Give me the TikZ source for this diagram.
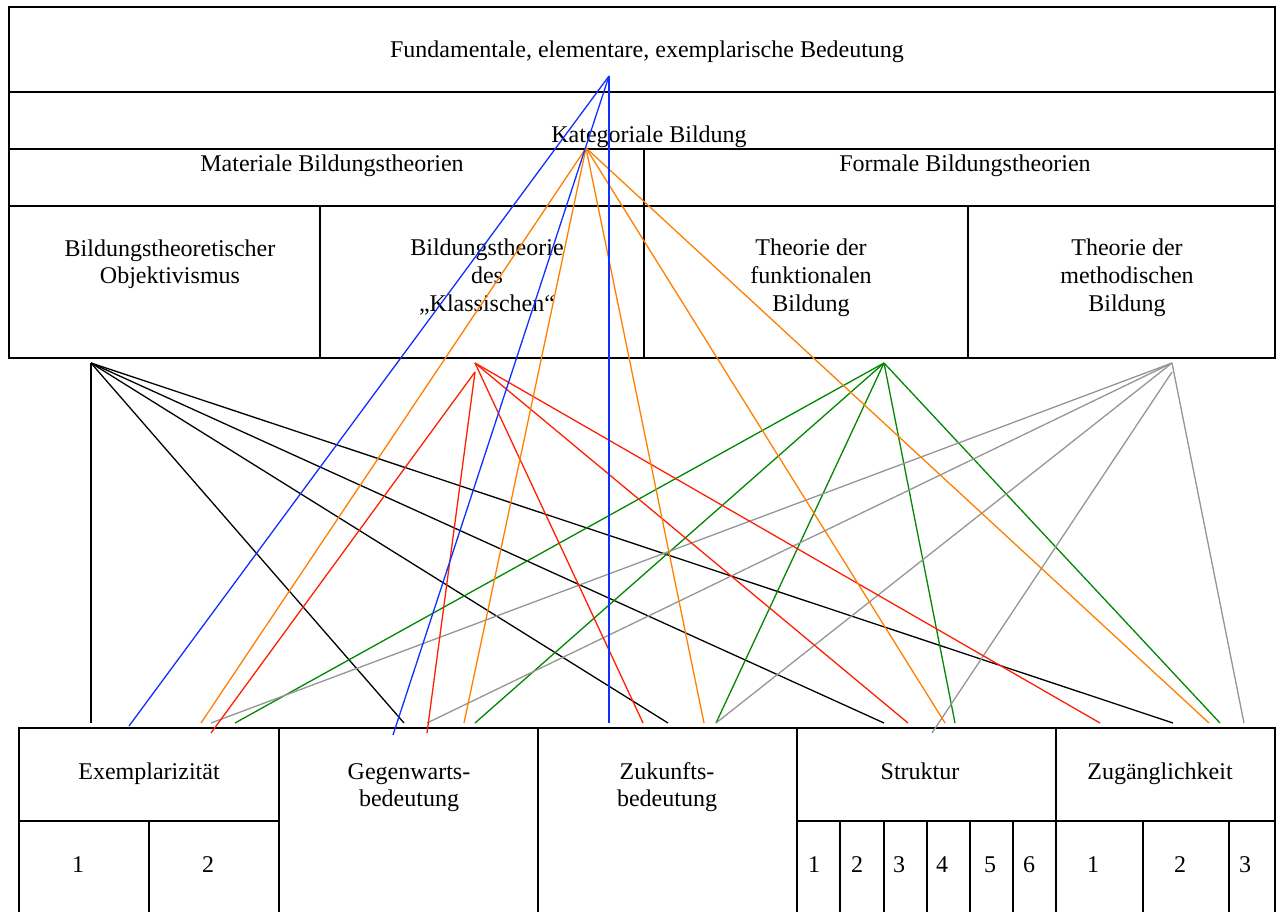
\documentclass[tikz,border=0pt]{standalone}
\usepackage{fontspec}
\setmainfont{Liberation Serif}
\begin{document}
\begin{tikzpicture}[x=0.5pt,y=-0.5pt,
  grid/.style={line width=0.9pt,black},
  lbl/.style={font=\fontsize{12}{13.8}\selectfont,align=center,anchor=base,inner sep=0pt},
  conn/.style={line width=0.65pt},
  cblue/.style={conn,draw={rgb,255:red,16;green,48;blue,255}},
  corange/.style={conn,draw={rgb,255:red,255;green,128;blue,0}},
  cred/.style={conn,draw={rgb,255:red,255;green,32;blue,0}},
  cgreen/.style={conn,draw={rgb,255:red,0;green,136;blue,0}},
  cgray/.style={conn,draw={rgb,255:red,150;green,150;blue,150}},
  cblack/.style={conn,draw=black}]
\useasboundingbox (0,0) rectangle (1280,911);
\fill[white] (0,0) rectangle (1280,911);

% ---- top table ----
\draw[grid] (9,7) rectangle (1275,358);
\draw[grid] (9,92) -- (1275,92);
\draw[grid] (9,149) -- (1275,149);
\draw[grid] (9,206) -- (1275,206);
\draw[grid] (644,149) -- (644,358);
\draw[grid] (320,206) -- (320,358);
\draw[grid] (968,206) -- (968,358);

% ---- bottom table ----
\draw[grid] (19,940) -- (19,728) -- (1275,728) -- (1275,940);
\foreach \x in {279,538,797,1056} \draw[grid] (\x,728) -- (\x,940);
\draw[grid] (19,821) -- (279,821);
\draw[grid] (797,821) -- (1275,821);
\foreach \x in {149,840,884,927,970,1013,1143,1229} \draw[grid] (\x,821) -- (\x,940);

% ---- texts (base = baseline of last line) ----
\node[lbl] (fund) at (647,57) {Fundamentale, elementare, exemplarische Bedeutung};
\node[lbl] (kat) at (649,142) {Kategoriale Bildung};
\node[lbl] (mat) at (332,171) {Materiale Bildungstheorien};
\node[lbl] (form) at (965,171) {Formale Bildungstheorien};
\node[lbl] (obj) at (170,283.6) {Bildungstheoretischer\\Objektivismus};
\node[lbl] (klass) at (487,311) {Bildungstheorie\\des\\„Klassischen“};
\node[lbl] (funk) at (811,311) {Theorie der\\funktionalen\\Bildung};
\node[lbl] (meth) at (1127,311) {Theorie der\\methodischen\\Bildung};

\node[lbl] (exe) at (149,779) {Exemplarizität};
\node[lbl] (geg) at (409,806.6) {Gegenwarts-\\bedeutung};
\node[lbl] (zuk) at (667,806.6) {Zukunfts-\\bedeutung};
\node[lbl] (str) at (920,779) {Struktur};
\node[lbl] (zug) at (1160,779) {Zugänglichkeit};
\node[lbl] (e1) at (78,872) {1};
\node[lbl] (e2) at (208,872) {2};
\node[lbl] (s1) at (814,872) {1};
\node[lbl] (s2) at (857,872) {2};
\node[lbl] (s3) at (899,872) {3};
\node[lbl] (s4) at (942,872) {4};
\node[lbl] (s5) at (990,872) {5};
\node[lbl] (s6) at (1029,872) {6};
\node[lbl] (z1) at (1093,872) {1};
\node[lbl] (z2) at (1180,872) {2};
\node[lbl] (z3) at (1245,872) {3};

% ---- apexes ----
\coordinate (B) at (609,76);
\coordinate (O) at (586,148);
\coordinate (K) at (91,363);
\coordinate (R) at (475,363);
\coordinate (R2) at (475,372);
\coordinate (G) at (884,363);
\coordinate (Y) at (1172,363);
\coordinate (Y2) at (1172,372);

% ---- end points ----
\coordinate (b1) at (129,726);
\coordinate (b2) at (393,735);
\coordinate (b3) at (609,723);
\coordinate (o1) at (201,723);
\coordinate (o2) at (464,723);
\coordinate (o3) at (704,723);
\coordinate (o4) at (945,723);
\coordinate (o5) at (1209,723);
\coordinate (k1) at (91,723);
\coordinate (k2) at (404,723);
\coordinate (k3) at (668,723);
\coordinate (k4) at (884,723);
\coordinate (k5) at (1173,723);
\coordinate (r1) at (211,733);
\coordinate (r2) at (427,733);
\coordinate (r3) at (643,723);
\coordinate (r4) at (908,723);
\coordinate (r5) at (1100,723);
\coordinate (g1) at (235,723);
\coordinate (g2) at (475,723);
\coordinate (g3) at (716,723);
\coordinate (g4) at (955,723);
\coordinate (g5) at (1220,723);
\coordinate (y1) at (211,723);
\coordinate (y2) at (427,723);
\coordinate (y3) at (716,723);
\coordinate (y4) at (932,733);
\coordinate (y5) at (1244,723);

% ---- connectors ----
\foreach \e in {k1,k2,k3,k4,k5} \draw[cblack] (K) -- (\e);
\foreach \e in {g1,g2,g3,g4,g5} \draw[cgreen] (G) -- (\e);
\foreach \e in {y1,y2,y3,y5} \draw[cgray] (Y) -- (\e);
\draw[cgray] (Y2) -- (y4);
\foreach \e in {r3,r4,r5} \draw[cred] (R) -- (\e);
\foreach \e in {r1,r2} \draw[cred] (R2) -- (\e);
\foreach \e in {o1,o2,o3,o4,o5} \draw[corange] (O) -- (\e);
\foreach \e in {b1,b2,b3} \draw[cblue] (B) -- (\e);
\end{tikzpicture}
\end{document}
